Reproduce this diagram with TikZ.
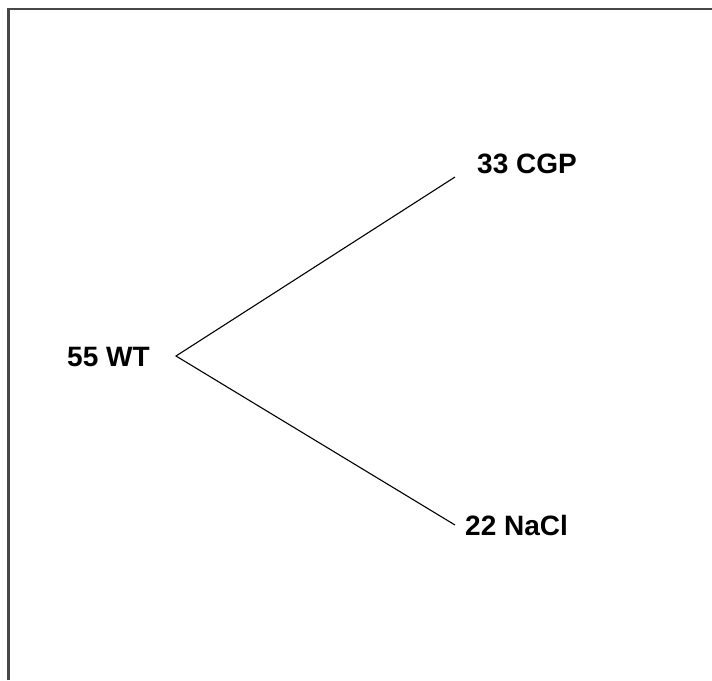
\documentclass[tikz,border=0pt]{standalone}
\usepackage{fontspec}
\setmainfont{Liberation Sans}
\begin{document}
\begin{tikzpicture}[x=1pt,y=-1pt,
  label text/.style={font=\fontsize{28}{33}\selectfont\bfseries, inner sep=0pt, anchor=base west},
  branch/.style={draw=black, line width=1.1pt},
  frame edge/.style={draw=black!72, line width=2.2pt}]
  % page extent
  \useasboundingbox (0,0) rectangle (712,680);
  \fill[white] (0,0) rectangle (712,680);
  % frame: top and left edges only
  \draw[frame edge] (8.5,680) -- (8.5,8.8) -- (712,8.8);
  % labels
  \node[label text] (wt)   at (67,366)  {55 WT};
  \node[label text] (cgp)  at (477,173) {33 CGP};
  \node[label text] (nacl) at (465,535) {22 NaCl};
  % branch points
  \coordinate (fork) at (176,356);
  \coordinate (upper) at (455,177);
  \coordinate (lower) at (455,525);
  \draw[branch] (upper) -- (fork) -- (lower);
\end{tikzpicture}
\end{document}
